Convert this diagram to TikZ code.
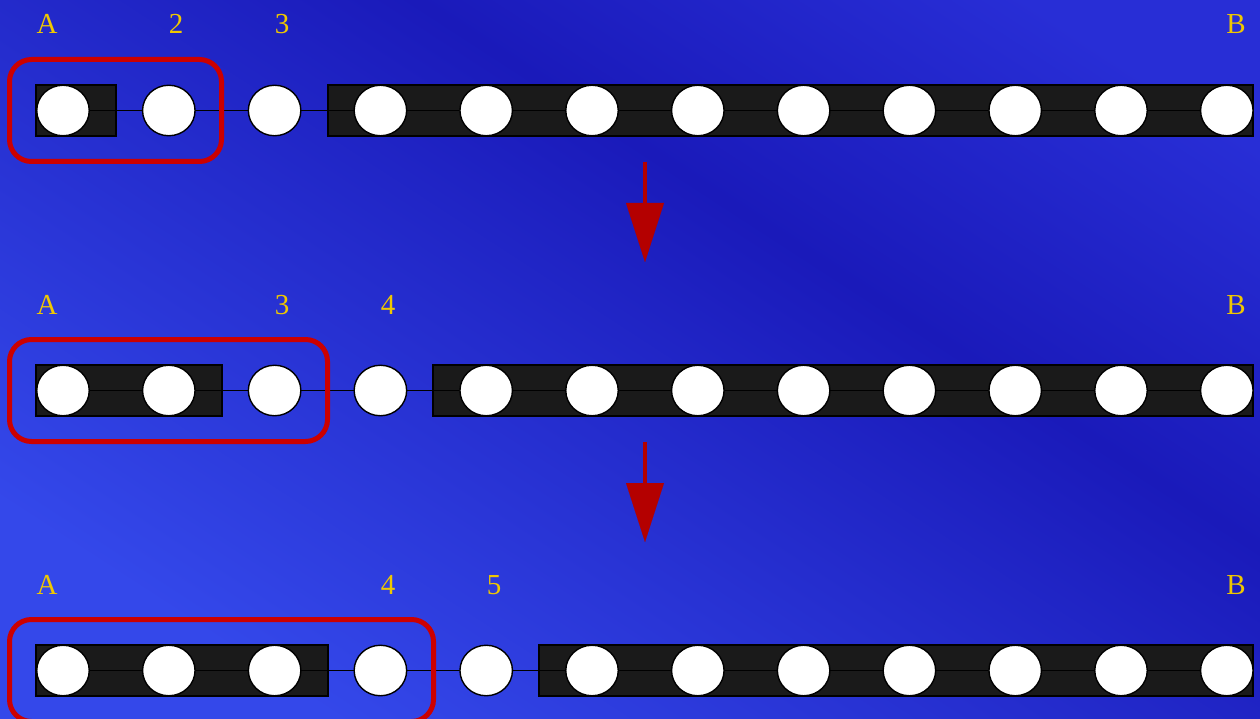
\documentclass[tikz,border=0pt]{standalone}
\usepackage{fontspec}
\setmainfont{Liberation Serif}
\usetikzlibrary{arrows.meta,shapes.geometric}
\definecolor{bgA}{RGB}{52,72,234}
\definecolor{bgB}{RGB}{26,26,186}
\definecolor{bgC}{RGB}{40,46,214}
\definecolor{boxfill}{RGB}{26,26,26}
\definecolor{selred}{RGB}{204,0,0}
\definecolor{arrred}{RGB}{180,0,0}
\definecolor{lblgold}{RGB}{240,200,0}
\pgfdeclarehorizontalshading{bgshade}{100bp}{color(0bp)=(bgA); color(25bp)=(bgA); color(60bp)=(bgB); color(78bp)=(bgC); color(100bp)=(bgC)}
\tikzset{
  bead/.style={ellipse, draw=black, line width=1.4pt, fill=white, minimum width=52.5pt, minimum height=50.5pt, inner sep=0pt},
  blockbox/.style={draw=black, line width=1.5pt, fill=boxfill},
  link/.style={draw=black, line width=1.3pt},
  selbox/.style={draw=selred, line width=5pt, rounded corners=22pt},
  lbl/.style={text=lblgold, font=\fontsize{29}{32}\selectfont, anchor=base, inner sep=0pt},
  downarrow/.style={draw=arrred, line width=4pt, -{Triangle[width=38pt,length=59pt,line width=0.1pt]}, arrred}
}
\begin{document}
\begin{tikzpicture}[x=1pt,y=-1pt]
\useasboundingbox (0,0) rectangle (1260,719);
\shade[shading=bgshade, shading angle=57] (0,0) rectangle (1260,719);
% rows
\foreach \r/\yc/\lend/\rstart in {1/110/116/328, 2/390/222/433, 3/670/328/539}{
  \draw[blockbox] (36,\yc-25) rectangle (\lend,\yc+26);
  \draw[blockbox] (\rstart,\yc-25) rectangle (1253,\yc+26);
  \foreach \i in {1,...,12}{
    \coordinate (p\r-\i) at ({63+(\i-1)*105.8},\yc+0.5);
  }
  \foreach \i [evaluate=\i as \j using int(\i+1)] in {1,...,11}{
    \draw[link] (p\r-\i) -- (p\r-\j);
  }
  \foreach \i in {1,...,12}{
    \node[bead] (b\r-\i) at (p\r-\i) {};
  }
}
% selection boxes
\node[selbox, minimum width=212pt, minimum height=102pt] (s1) at (115.5,110.5) {};
\node[selbox, minimum width=318pt, minimum height=102pt] (s2) at (168.5,390.5) {};
\node[selbox, minimum width=424pt, minimum height=102pt] (s3) at (221.5,670.5) {};
% labels
\node[lbl] (l1a) at (47,34) {A};
\node[lbl] (l1b) at (176,34) {2};
\node[lbl] (l1c) at (282,34) {3};
\node[lbl] (l1d) at (1236,34) {B};
\node[lbl] (l2a) at (47,314) {A};
\node[lbl] (l2b) at (282,314) {3};
\node[lbl] (l2c) at (388,314) {4};
\node[lbl] (l2d) at (1236,314) {B};
\node[lbl] (l3a) at (47,594) {A};
\node[lbl] (l3b) at (388,594) {4};
\node[lbl] (l3c) at (494,594) {5};
\node[lbl] (l3d) at (1236,594) {B};
% arrows
\coordinate (a1s) at (645,162);
\coordinate (a1e) at (645,262);
\coordinate (a2s) at (645,442);
\coordinate (a2e) at (645,542);
\draw[downarrow] (a1s) -- (a1e);
\draw[downarrow] (a2s) -- (a2e);
\end{tikzpicture}
\end{document}
